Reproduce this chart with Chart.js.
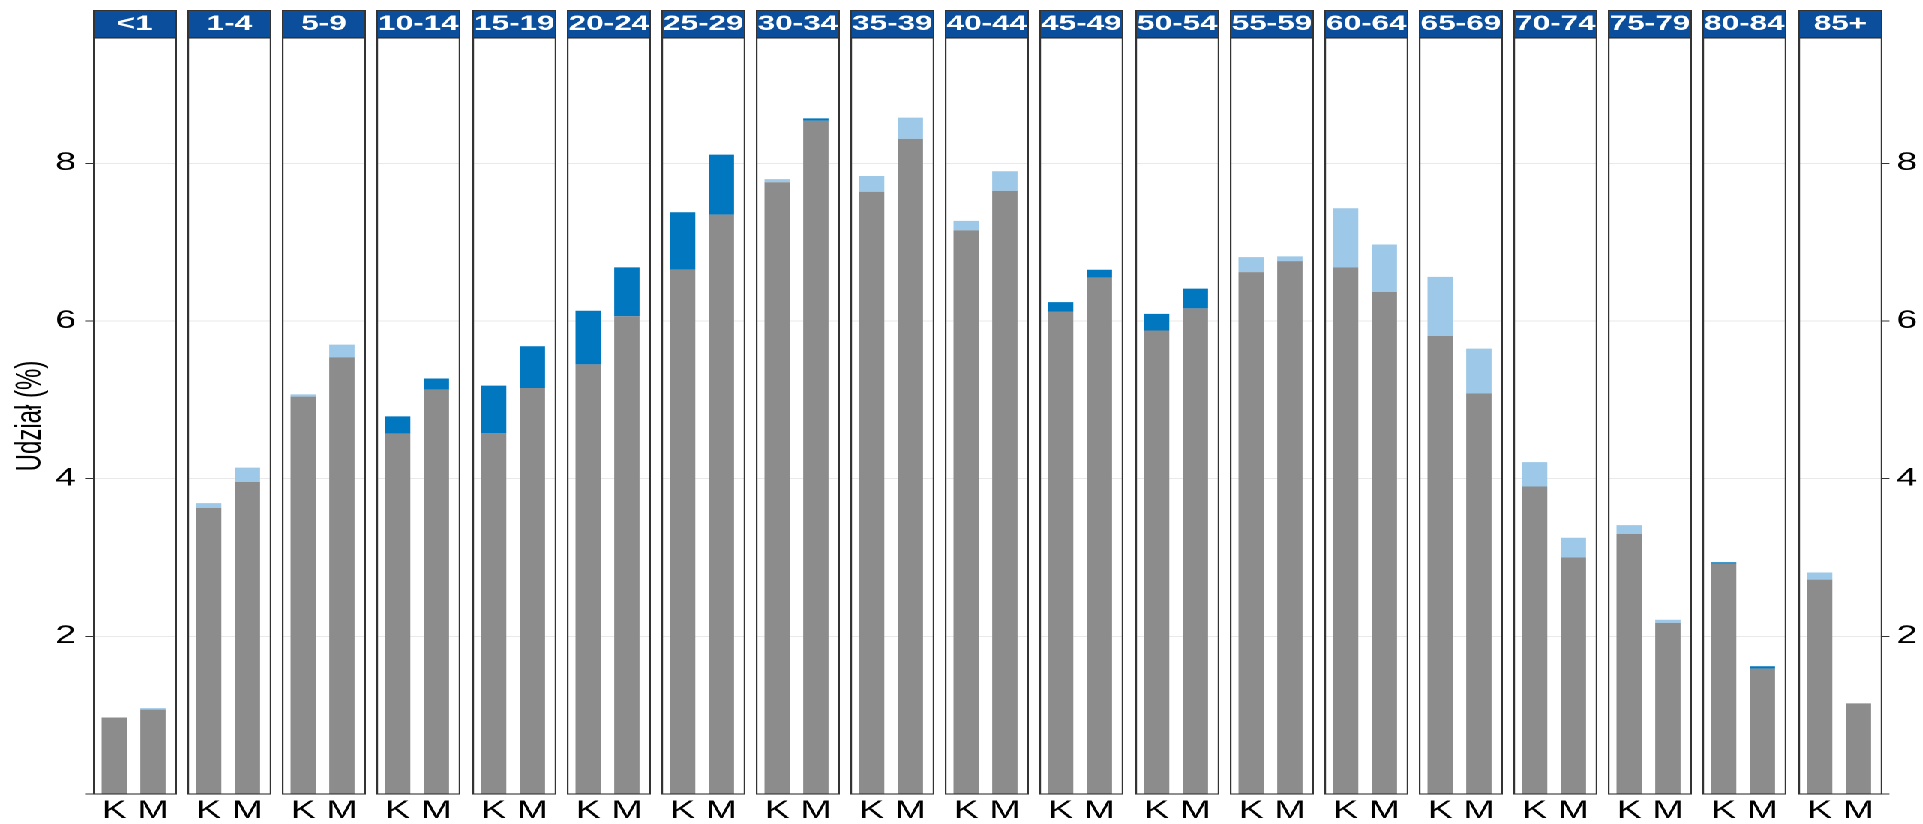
<!DOCTYPE html>
<html>
<head>
<meta charset="utf-8">
<script src="https://cdn.jsdelivr.net/npm/chart.js@4.4.1/dist/chart.umd.min.js"></script>
<style>
  html, body { margin: 0; padding: 0; background: #fff; overflow: hidden; }
  #wrap { position: relative; width: 1282px; height: 824px; transform-origin: 0 0; transform: scaleX(1.5); }
  #wrap canvas { position: absolute; top: 0; }
</style>
</head>
<body>
<div id="wrap"></div>
<script>
// ---------------- data ----------------
const ageGroups = ['<1','1-4','5-9','10-14','15-19','20-24','25-29','30-34','35-39','40-44',
                   '45-49','50-54','55-59','60-64','65-69','70-74','75-79','80-84','85+'];
const sexLabels = ['K', 'M'];
// series A (dark blue excess when A > B), series B (light blue excess when B > A)
const seriesA_K = [0.97, 3.63, 5.04, 4.79, 5.18, 6.13, 7.38, 7.76, 7.64, 7.15, 6.24, 6.09, 6.62, 6.68, 5.81, 3.90, 3.30, 2.94, 2.72];
const seriesB_K = [0.97, 3.69, 5.07, 4.57, 4.58, 5.45, 6.65, 7.80, 7.84, 7.27, 6.12, 5.88, 6.81, 7.43, 6.56, 4.21, 3.41, 2.92, 2.81];
const seriesA_M = [1.07, 3.96, 5.54, 5.27, 5.68, 6.68, 8.11, 8.57, 8.31, 7.65, 6.65, 6.41, 6.76, 6.37, 5.08, 3.00, 2.17, 1.62, 1.15];
const seriesB_M = [1.09, 4.14, 5.70, 5.13, 5.15, 6.06, 7.35, 8.54, 8.58, 7.90, 6.55, 6.16, 6.82, 6.97, 5.65, 3.25, 2.21, 1.59, 1.15];
const yTickValues = [0, 2, 4, 6, 8];
const yTitle = 'Udział (%)';

// ---------------- style / layout ----------------
const FONT = "'Liberation Sans', Arial, sans-serif";
const GRAY = '#8c8c8c', DARK = '#0077be', LIGHT = '#9dc8e7', STRIP = '#0b4f9c', BORDER = '#333333';
const PANEL_LEFT = 62, PANEL_W = 56, PITCH = 63.147, RIGHT_AXIS_W = 28;
const Y_MAX = 9.59;

const panelPlugin = {
  id: 'panelDeco',
  beforeDraw(chart) {
    const { ctx, chartArea: a } = chart;
    const tb = chart.titleBlock;
    ctx.save();
    ctx.fillStyle = STRIP;
    ctx.fillRect(a.left, tb.top, a.right - a.left, tb.height);
    ctx.strokeStyle = BORDER;
    ctx.lineWidth = 1;
    ctx.strokeRect(a.left + 0.5, tb.top + 0.5, a.right - a.left - 1, tb.height - 1);
    ctx.restore();
  },
  afterDraw(chart) {
    const { ctx, chartArea: a } = chart;
    ctx.save();
    ctx.strokeStyle = BORDER;
    ctx.lineWidth = 1.1;
    ctx.strokeRect(a.left + 0.55, a.top, a.right - a.left - 1.1, a.bottom - a.top);
    ctx.restore();
  }
};

const wrap = document.getElementById('wrap');

function buildChart(i) {
  const first = i === 0, last = i === ageGroups.length - 1;
  const panelLeft = PANEL_LEFT + i * PITCH;
  const left = first ? 0 : panelLeft;
  const axisW = first ? PANEL_LEFT : (last ? RIGHT_AXIS_W : 0);
  const canvas = document.createElement('canvas');
  canvas.style.left = left + 'px';
  canvas.setAttribute('width', PANEL_W + axisW);
  canvas.setAttribute('height', 824);
  wrap.appendChild(canvas);

  const a = [seriesA_K[i], seriesA_M[i]];
  const b = [seriesB_K[i], seriesB_M[i]];
  const xs = [1, 2];
  const gray = xs.map((x, k) => ({ x, y: Math.min(a[k], b[k]) }));
  const dark = xs.map((x, k) => ({ x, y: Math.max(a[k] - b[k], 0) }));
  const light = xs.map((x, k) => ({ x, y: Math.max(b[k] - a[k], 0) }));

  const barOpts = { categoryPercentage: 1, barPercentage: 0.654, borderWidth: 0 };

  const showAxis = first || last;
  const yScale = {
    position: last ? 'right' : 'left',
    stacked: true,
    min: 0, max: Y_MAX,
    afterBuildTicks: s => { s.ticks = yTickValues.map(v => ({ value: v })); },
    ticks: {
      display: showAxis,
      callback: v => (v === 0 ? '' : String(v)),
      font: { family: FONT, size: 25 },
      color: '#000',
      padding: first ? 6 : 4.7
    },
    grid: {
      color: '#e9e9e9', lineWidth: 1,
      drawTicks: showAxis, tickLength: first ? 5.3 : 4.7, tickColor: BORDER, tickWidth: 1
    },
    border: { display: false },
    title: {
      display: first, text: yTitle, color: '#000',
      font: { family: FONT, size: 24 }, padding: { top: 6, bottom: 0 }
    },
    afterFit: s => { s.width = axisW; }
  };

  new Chart(canvas, {
    type: 'bar',
    data: {
      datasets: [
        Object.assign({ label: 'base', data: gray, backgroundColor: GRAY }, barOpts),
        Object.assign({ label: 'A', data: dark, backgroundColor: DARK }, barOpts),
        Object.assign({ label: 'B', data: light, backgroundColor: LIGHT }, barOpts)
      ]
    },
    options: {
      responsive: false,
      animation: false,
      devicePixelRatio: 2,
      layout: { padding: { top: 10, left: 0, right: 0, bottom: 0 } },
      plugins: {
        legend: { display: false },
        tooltip: { enabled: false },
        title: {
          display: true, text: ageGroups[i], color: '#fff', fullSize: false, padding: 0,
          font: { family: FONT, size: 21, weight: 'bold', lineHeight: 28 / 21 }
        }
      },
      scales: {
        x: {
          type: 'linear', stacked: true, offset: false, min: 0.45, max: 2.62,
          afterBuildTicks: s => { s.ticks = xs.map(v => ({ value: v })); },
          ticks: {
            callback: v => sexLabels[v - 1],
            font: { family: FONT, size: 25 }, color: '#000',
            padding: 2, maxRotation: 0, autoSkip: false
          },
          grid: { display: false, drawTicks: false },
          border: { display: false },
          afterFit: s => { s.height = 30; }
        },
        y: yScale
      }
    },
    plugins: [panelPlugin]
  });
}

ageGroups.forEach((g, i) => buildChart(i));
</script>
</body>
</html>
